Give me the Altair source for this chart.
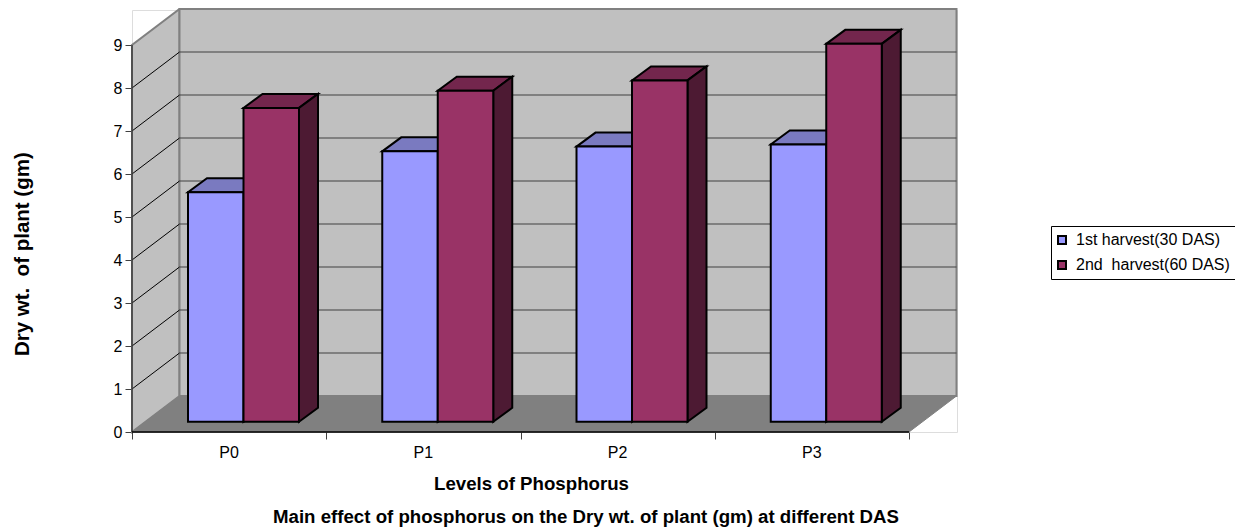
import altair as alt
import pandas as pd

categories = ["P0", "P1", "P2", "P3"]
series_names = ["1st harvest(30 DAS)", "2nd\u00a0 harvest(60 DAS)"]
first_harvest = [5.34, 6.29, 6.40, 6.45]
second_harvest = [7.30, 7.70, 7.94, 8.79]
y_ticks = list(range(10))

PX = 194.25   # px per category
PY = 43.0     # px per value unit
W, H = 825, 422
WALL_DX, WALL_DY = 47.5 / PX, 36 / PY
BASE_DY = 10.2 / PY
BAR_DX, BAR_DY = 19 / PX, 14 / PY
BAR_W = 55.5 / PX
BAR_OFF = 56 / PX
N = len(categories)
FONT = "Liberation Sans"

xs = alt.Scale(domain=[0, W / PX], nice=False, zero=False)
ys = alt.Scale(domain=[0, H / PY], nice=False, zero=False)
x_axis = alt.Axis(
    values=list(range(N + 1)), domain=False, grid=False, tickSize=7, tickColor="#404040", labels=False,
    title="Levels of Phosphorus", titleFont=FONT, titleFontSize=18.67, titleFontWeight="bold",
    titleColor="#000000", titleX=399, titleY=51, titleBaseline="middle",
)
y_axis = alt.Axis(
    values=y_ticks, domain=False, grid=False, tickSize=7, tickColor="#404040", labelPadding=3,
    labelFont=FONT, labelFontSize=16, labelColor="#000000",
    title="Dry wt.\u00a0 of plant (gm)", titleFont=FONT, titleFontSize=20.5, titleFontWeight="bold",
    titleColor="#000000", titleX=-110, titleY=243.7, titleBaseline="middle",
)
X = alt.X("x:Q", scale=xs, axis=x_axis)
Y = alt.Y("y:Q", scale=ys, axis=y_axis)
Y2 = alt.Y2("y2:Q")


def poly(rows):
    return pd.DataFrame(rows, columns=["id", "x", "y", "y2"])


def area(df, fill, stroke, sw=1.0):
    return alt.Chart(df).mark_area(fill=fill, stroke=stroke, strokeWidth=sw, opacity=1, strokeJoin="miter", interpolate="linear").encode(
        x=X, y=Y, y2=Y2, detail="id:N"
    )


def seg(rows, color, sw):
    return alt.Chart(pd.DataFrame(rows, columns=["id", "x", "y"])).mark_line(color=color, strokeWidth=sw).encode(
        x=X, y=Y, detail="id:N", order="x:Q"
    )


TOP = y_ticks[-1]
side_wall = area(poly([(0, 0, 0, TOP), (0, WALL_DX, WALL_DY, TOP + WALL_DY)]), "#C0C0C0", "#808080", 2)
back_wall = area(poly([(0, WALL_DX, WALL_DY, TOP + WALL_DY), (0, N + WALL_DX, WALL_DY, TOP + WALL_DY)]), "#C0C0C0", "#808080", 2)
floor = area(poly([(0, 0, 0, 0), (0, WALL_DX, 0, WALL_DY), (0, N, 0, WALL_DY), (0, N + WALL_DX, WALL_DY, WALL_DY)]), "#808080", "#808080", 1)

grid_side = seg(
    [r for t in y_ticks[1:-1] for r in [(t, 0, t), (t, WALL_DX, t + WALL_DY)]], "#000000", 1
)
grid_back = seg(
    [r for t in y_ticks[1:-1] for r in [(t, WALL_DX, t + WALL_DY), (t, N + WALL_DX, t + WALL_DY)]], "#404040", 1
)


def bar_layers(values, s, name, top_col, side_col):
    top, side, front = [], [], []
    for i, v in enumerate(values):
        x0 = i + BAR_OFF + s * BAR_W
        x1 = x0 + BAR_W
        vv = v + BASE_DY
        top += [(i, x0, vv, vv), (i, x0 + BAR_DX, vv, vv + BAR_DY), (i, x1, vv, vv + BAR_DY), (i, x1 + BAR_DX, vv + BAR_DY, vv + BAR_DY)]
        side += [(i, x1, BASE_DY, vv), (i, x1 + BAR_DX, BASE_DY + BAR_DY, vv + BAR_DY)]
        front.append({"x": x0, "x2": x1, "y": BASE_DY, "y2": vv, "series": name})
    front_chart = alt.Chart(pd.DataFrame(front)).mark_rect(stroke="#000000", strokeWidth=2).encode(
        x=X, x2="x2:Q", y=Y, y2=Y2,
        color=alt.Color(
            "series:N",
            scale=alt.Scale(domain=series_names, range=["#9999FF", "#993366"]),
            legend=alt.Legend(
                title=None, orient="none", legendX=919, legendY=216, padding=6,
                strokeColor="#000000", fillColor="#FFFFFF",
                symbolType="square", symbolSize=64, symbolStrokeColor="#000000", symbolStrokeWidth=2,
                symbolOffset=-3,
                labelFont=FONT, labelFontSize=16, labelColor="#000000", labelOffset=6,
                rowPadding=9, labelLimit=300,
                labelExpr="datum.label + '\u00a0'",
            ),
        ),
    )
    return [area(poly(top), top_col, "#000000", 2), area(poly(side), side_col, "#000000", 2), front_chart]


layers = [side_wall, back_wall, floor, grid_side, grid_back]
layers += bar_layers(first_harvest, 0, series_names[0], "#7A7AC0", "#4D4D80")
layers += bar_layers(second_harvest, 1, series_names[1], "#73264D", "#4D1A33")

axis_y = seg([(0, 0, 0), (0, 0, TOP)], "#404040", 1.5)
axis_x = seg([(0, 0, 0), (0, N, 0)], "#000000", 1.5)
cat_labels = alt.Chart(pd.DataFrame({"x": [i + 0.5 for i in range(N)], "c": categories})).mark_text(
    font=FONT, fontSize=16, color="#000000", baseline="middle"
).encode(x=X, y=alt.value(H + 21), text="c:N")

chart = alt.layer(*layers, axis_y, axis_x, cat_labels).properties(
    width=W, height=H,
    padding={"left": 124, "top": 2, "right": 278, "bottom": 97},
    autosize=alt.AutoSizeParams(type="none"),
    title=alt.TitleParams(
        "Main effect of phosphorus on the Dry wt. of plant (gm) at different DAS",
        orient="bottom", anchor="start", frame="group", dx=141, offset=15,
        font=FONT, fontSize=18.67, fontWeight="bold", color="#000000",
    ),
).configure_view(stroke=None).configure(background="#FFFFFF")

chart.save("out.html", embed_options={"renderer": "svg", "actions": False})
